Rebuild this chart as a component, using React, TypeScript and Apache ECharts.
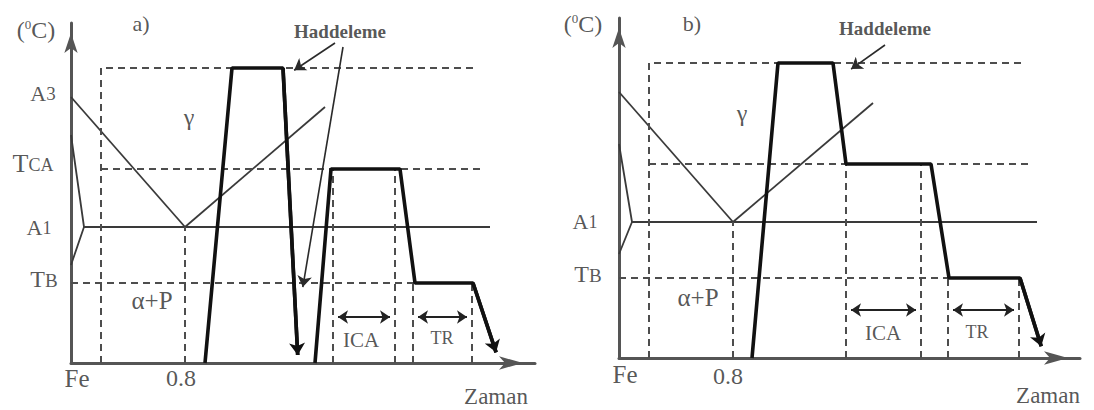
import React, { useEffect, useRef } from "react";
import * as echarts from "echarts";

// Temperature levels of the schematic (diagram units above the time axis)
const T_ROLL = 295;
const T_A3 = 266;
const T_CA = 194;
const T_A1 = 136;
const T_B = 80;

// Composition positions along the horizontal axis
const X_HYPO = 30;
const X_EUTECTOID = 114;

// Axis extents: [panel a, panel b]
const X_MAX = [464, 461];
const Y_MAX = 340;

// ---- Panel a) : hot rolling, re-heating to TCA, holding at TB ----
const A_ROLL_PATH = [[134, 0], [161, T_ROLL], [212, T_ROLL], [227, 2]];
const A_TREAT_PATH = [[244, 0], [260, T_CA], [329, T_CA], [344, T_B], [402, T_B], [427, 5]];
const A_ICA_SPAN = [262, 324];
const A_TR_SPAN = [342, 401];
const A_SPAN_Y = 46;
const A_ACM_END = [254, 256];
const A_WEDGE = [[0, 228], [13, T_A1], [0, 98]];
const A_LINE_ENDS = { roll: 404, tca: 412, a1: 419, tb: 344 };
const A_POINTERS = [
  [[264, 320], [219, 290]],
  [[272, 316], [231, 71]],
];
const A_UNDERLINE = [[-50, 324], [-22, 324]];
const A_LABELS: [string, number, number][] = [
  ["(⁰C)", -35, 333],
  ["a)", 70, 340],
  ["A3", -28, 270],
  ["TCA", -38, 200],
  ["A1", -32, 136],
  ["TB", -27, 84],
  ["γ", 118, 246],
  ["α+P", 81, 63],
  ["Fe", 6, -15],
  ["0.8", 110, -15],
  ["Haddeleme", 269, 332],
  ["ICA", 290, 23],
  ["TR", 371, 25],
  ["Zaman", 425, -33],
];

// ---- Panel b) : hot rolling with direct cooling to TCA, then TB ----
const B_PATH = [[133, 0], [159, T_ROLL], [214, T_ROLL], [227, T_CA], [312, T_CA], [330, T_B], [401, T_B], [424, 6]];
const B_ICA_SPAN = [227, 302];
const B_TR_SPAN = [329, 400];
const B_SPAN_Y = 48;
const B_ACM_END = [254, 255];
const B_WEDGE = [[0, 214], [13, T_A1], [0, 104]];
const B_LINE_ENDS = { roll: 403, tca: 411, a1: 418, tb: 329 };
const B_POINTERS = [[[266, 313], [228, 286]]];
const B_UNDERLINE = [[-53, 321], [-20, 321]];
const B_LABELS: [string, number, number][] = [
  ["(⁰C)", -36, 334],
  ["b)", 73, 335],
  ["A1", -34, 137],
  ["TB", -31, 84],
  ["γ", 123, 245],
  ["α+P", 79, 61],
  ["Fe", 6, -16],
  ["0.8", 109, -18],
  ["Haddeleme", 266, 330],
  ["ICA", 264, 25],
  ["TR", 358, 26],
  ["Zaman", 429, -37],
];

const FONT = "'Liberation Serif', 'Times New Roman', serif";
const INK = "#2b2b2b";

const THIN = { color: "#3a3a3a", width: 1.8 };
const DASH = { color: "#4d4d4d", width: 2, type: [7, 5] as number[] };
const THICK = { color: "#111111", width: 3.6 };

type Pt = number[];

// Move the end point back along the segment so the arrow tip lands on it
function pullBack(from: Pt, to: Pt, d: number): Pt {
  const dx = to[0] - from[0];
  const dy = to[1] - from[1];
  const len = Math.hypot(dx, dy) || 1;
  return [to[0] - (dx / len) * d, to[1] - (dy / len) * d];
}

function labelFormat(text: string) {
  const tok = (size: number, raise = 0) => ({
    fontSize: size,
    fontFamily: FONT,
    color: INK,
    verticalAlign: "bottom",
    padding: [0, 0, raise, 0],
  });
  switch (text) {
    case "(⁰C)":
      return {
        formatter: "{big|(}{sup|0}{big|C)}",
        rich: { big: tok(24), sup: { fontSize: 13, fontFamily: FONT, color: INK, verticalAlign: "top" } },
      };
    case "A3":
      return { formatter: "{big|A}{sub|3}", rich: { big: tok(22), sub: tok(19, 1) } };
    case "TCA":
      return { formatter: "{big|T}{sub|CA}", rich: { big: tok(26), sub: tok(18, 2) } };
    case "A1":
      return { formatter: "{big|A}{sub|1}", rich: { big: tok(22), sub: tok(18, 1) } };
    case "TB":
      return { formatter: "{big|T}{sub|B}", rich: { big: tok(24), sub: tok(19, 1) } };
    default: {
      const sizes: Record<string, number> = {
        "a)": 22, "b)": 22, "γ": 24, "α+P": 25, Fe: 25, "0.8": 24,
        Haddeleme: 19, ICA: 21, TR: 18, Zaman: 23,
      };
      return {
        formatter: text,
        fontSize: sizes[text] ?? 20,
        fontWeight: text === "Haddeleme" ? "bold" : "normal",
      };
    }
  }
}

interface Panel {
  paths: number[][][];
  ica: number[];
  tr: number[];
  spanY: number;
  acmEnd: number[];
  wedge: number[][];
  ends: { roll: number; tca: number; a1: number; tb: number };
  pointers: number[][][];
  underline: number[][];
  labels: [string, number, number][];
}

function panelSeries(gi: number, p: Panel): any[] {
  const ax = { xAxisIndex: gi, yAxisIndex: gi };
  const line = (data: number[][], style: any, z = 2) => ({
    type: "line",
    ...ax,
    data,
    showSymbol: false,
    symbol: "none",
    silent: true,
    clip: false,
    z,
    lineStyle: style,
  });
  const arrows = (segs: number[][][], style: any, symbol: string[], size: number, z = 4) => ({
    type: "lines",
    coordinateSystem: "cartesian2d",
    ...ax,
    symbol,
    symbolSize: size,
    silent: true,
    z,
    lineStyle: { ...style, opacity: 1, curveness: 0 },
    data: segs.map((c) => ({ coords: c })),
  });

  const out: any[] = [];

  // phase diagram
  out.push(line([[0, T_A3], [X_EUTECTOID, T_A1]], THIN));
  out.push(line([[X_EUTECTOID, T_A1], p.acmEnd], THIN));
  out.push(line([[p.wedge[1][0], T_A1], [p.ends.a1, T_A1]], THIN));
  out.push(line(p.wedge, THIN));

  // reference levels
  out.push(line([[X_HYPO, 0], [X_HYPO, T_ROLL], [p.ends.roll, T_ROLL]], DASH));
  out.push(line([[X_HYPO, T_CA], [p.ends.tca, T_CA]], DASH));
  out.push(line([[0, T_B], [p.ends.tb, T_B]], DASH));
  out.push(line([[X_EUTECTOID, 0], [X_EUTECTOID, T_A1]], DASH));
  [p.ica[0], p.ica[1]].forEach((x) => out.push(line([[x, 0], [x, T_CA]], DASH)));
  [p.tr[0], p.tr[1]].forEach((x) => out.push(line([[x, 0], [x, T_B]], DASH)));

  // holding intervals
  const span = (s: number[]) => {
    const a = [s[0], p.spanY];
    const b = [s[1], p.spanY];
    return [pullBack(b, a, 5), pullBack(a, b, 5)];
  };
  out.push(arrows([span(p.ica), span(p.tr)], { color: "#222", width: 2.2 }, ["arrow", "arrow"], 10));

  // thermo-mechanical paths
  p.paths.forEach((path) => {
    const n = path.length;
    const tip = pullBack(path[n - 2], path[n - 1], 6);
    out.push(line([...path.slice(0, n - 1), tip], THICK, 3));
    out.push(arrows([[path[n - 2], tip]], THICK, ["none", "arrow"], 12));
  });

  // "Haddeleme" pointers
  out.push(
    arrows(
      p.pointers.map((s) => [s[0], pullBack(s[0], s[1], 5)]),
      { color: "#2a2a2a", width: 1.6 },
      ["none", "arrow"],
      11
    )
  );

  // spell-check underline under the unit
  out.push(line(p.underline, { color: "#e07070", width: 1, type: [1, 2] }, 1));

  // texts
  out.push({
    type: "scatter",
    ...ax,
    clip: false,
    silent: true,
    symbolSize: 1,
    z: 5,
    itemStyle: { color: "rgba(0,0,0,0)" },
    label: { show: true, position: "inside", color: INK, fontFamily: FONT },
    data: p.labels.map(([text, x, y]) => ({ value: [x, y], label: labelFormat(text) })),
  });

  return out;
}

function buildOption() {
  const axisLine = (len: number) => ({
    show: true,
    symbol: ["none", "arrow"],
    symbolSize: [10, len],
    symbolOffset: [0, -len / 2],
    lineStyle: { color: "#555555", width: 3 },
  });
  const hidden = { axisTick: { show: false }, axisLabel: { show: false }, splitLine: { show: false } };

  const panels: Panel[] = [
    {
      paths: [A_ROLL_PATH, A_TREAT_PATH],
      ica: A_ICA_SPAN,
      tr: A_TR_SPAN,
      spanY: A_SPAN_Y,
      acmEnd: A_ACM_END,
      wedge: A_WEDGE,
      ends: A_LINE_ENDS,
      pointers: A_POINTERS,
      underline: A_UNDERLINE,
      labels: A_LABELS,
    },
    {
      paths: [B_PATH],
      ica: B_ICA_SPAN,
      tr: B_TR_SPAN,
      spanY: B_SPAN_Y,
      acmEnd: B_ACM_END,
      wedge: B_WEDGE,
      ends: B_LINE_ENDS,
      pointers: B_POINTERS,
      underline: B_UNDERLINE,
      labels: B_LABELS,
    },
  ];

  return {
    animation: false,
    backgroundColor: "#ffffff",
    grid: [
      { left: 71, top: 23, width: X_MAX[0], height: Y_MAX },
      { left: 619, top: 18, width: X_MAX[1], height: Y_MAX },
    ],
    xAxis: [0, 1].map((i) => ({
      type: "value",
      gridIndex: i,
      min: 0,
      max: X_MAX[i],
      axisLine: axisLine(24),
      ...hidden,
    })),
    yAxis: [0, 1].map((i) => ({
      type: "value",
      gridIndex: i,
      min: 0,
      max: Y_MAX,
      axisLine: axisLine(20),
      ...hidden,
    })),
    series: panels.flatMap((p, i) => panelSeries(i, p)),
  };
}

export default function App() {
  const ref = useRef<HTMLDivElement>(null);
  useEffect(() => {
    if (!ref.current) return;
    const chart = echarts.init(ref.current, undefined, { renderer: "svg" });
    chart.setOption(buildOption() as any);
    return () => chart.dispose();
  }, []);
  return (
    <div
      ref={ref}
      style={{ position: "absolute", left: 0, top: 0, width: 1094, height: 410, background: "#fff" }}
    />
  );
}
